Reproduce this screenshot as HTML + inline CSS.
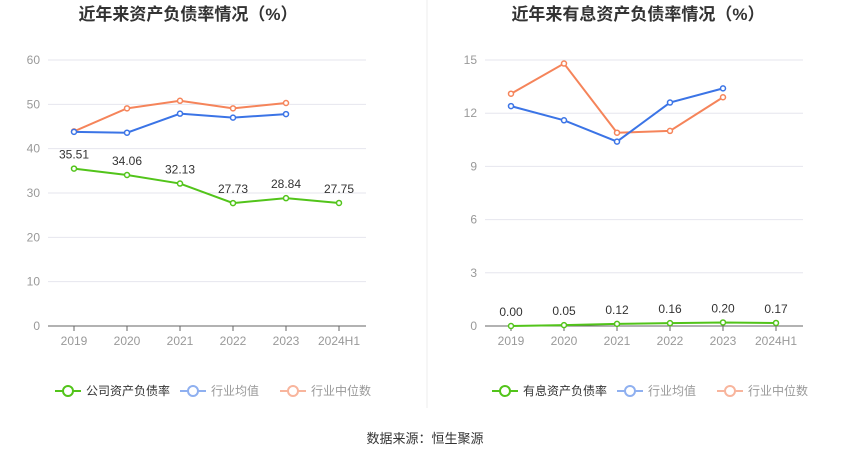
<!DOCTYPE html>
<html><head><meta charset="utf-8"><style>
body{margin:0;width:850px;height:459px;background:#fff;overflow:hidden;font-family:"Liberation Sans","Noto Sans CJK SC",sans-serif}
svg text{font-family:"Liberation Sans","Noto Sans CJK SC",sans-serif}
</style></head><body>
<svg id="c" width="850" height="459">
<line x1="427" y1="0" x2="427" y2="408" stroke="#eee"/>
<text x="425" y="443" font-size="13" fill="#333" text-anchor="middle">数据来源：恒生聚源</text>
</svg>
<script>
const categories=["2019","2020","2021","2022","2023","2024H1"];
const leftCompany=[35.51,34.06,32.13,27.73,28.84,27.75];
const leftAvg=[43.8,43.6,47.9,47.0,47.8];
const leftMedian=[43.9,49.1,50.8,49.1,50.3];
const leftTicks=[0,10,20,30,40,50,60];
const rightCompany=[0.00,0.05,0.12,0.16,0.20,0.17];
const rightAvg=[12.4,11.6,10.4,12.6,13.4];
const rightMedian=[13.1,14.8,10.9,11.0,12.9];
const rightTicks=[0,3,6,9,12,15];
const svg=document.getElementById('c');const NS="http://www.w3.org/2000/svg";
function mk(t,a,p){const e=document.createElementNS(NS,t);for(const k in a)e.setAttribute(k,a[k]);(p||svg).appendChild(e);return e;}
const GREEN="#52c41a",BLUE="#3b74e6",ORANGE="#f5845a";
function chart(o){
 const x0=o.x0,step=53,yTop=60,yBot=326,max=o.ticks[o.ticks.length-1];
 const X=i=>x0+26+i*step,Y=v=>yBot-(v/max)*(yBot-yTop);
 let t=mk('text',{x:o.cx,y:20,'font-size':17,'font-weight':'bold',fill:'#333','text-anchor':'middle'});t.textContent=o.title;
 
 
 o.ticks.forEach(v=>{
  let l=mk('line',{x1:x0,x2:x0+318,y1:Y(v),y2:Y(v),stroke:v==0?'#666':'#e6e6ee'});
  
  
  let tx=mk('text',{x:x0-8,y:Y(v)+4,'font-size':12,fill:'#999','text-anchor':'end'});tx.textContent=v;
  
  
 });
 categories.forEach((c,i)=>{
  let tk=mk('line',{x1:X(i),x2:X(i),y1:yBot,y2:yBot+5,stroke:'#666'});
  
  
  let tx=mk('text',{x:X(i),y:yBot+19,'font-size':12,fill:'#999','text-anchor':'middle'});tx.textContent=c;
  
  
 });
 [[o.median,ORANGE,'median'],[o.avg,BLUE,'avg'],[o.company,GREEN,'company']].forEach(([d,col,n])=>{
  let p=mk('polyline',{points:d.map((v,i)=>X(i)+','+Y(v)).join(' '),fill:'none',stroke:col,'stroke-width':2});
  
  
  d.forEach((v,i)=>{
   let c=mk('circle',{cx:X(i),cy:Y(v),r:2.5,fill:'#fff',stroke:col,'stroke-width':1.5});
   
   
   if(n=='company'){let l=mk('text',{x:X(i),y:Y(v)-10,'font-size':12,fill:'#333','text-anchor':'middle'});l.textContent=v.toFixed(2);
    
    }
  });
 });
 [[o.lx,GREEN,o.legend,'#333'],[o.lx+125,'#8fb0f0','行业均值','#999'],[o.lx+225,'#f8b59d','行业中位数','#999']].forEach(([lx,col,txt,tc])=>{
  let g=mk('g',{});
  
  
  mk('line',{x1:lx,x2:lx+26,y1:391,y2:391,stroke:col,'stroke-width':2},g);
  mk('circle',{cx:lx+13,cy:391,r:5,fill:'#fff',stroke:col,'stroke-width':2},g);
  let tt=mk('text',{x:lx+31,y:395,'font-size':12,fill:tc},g);tt.textContent=txt;
 });
}
chart({id:'left',x0:48,cx:188,title:'近年来资产负债率情况（%）',ticks:leftTicks,company:leftCompany,avg:leftAvg,median:leftMedian,lx:55,legend:'公司资产负债率'});
chart({id:'right',x0:485,cx:638,title:'近年来有息资产负债率情况（%）',ticks:rightTicks,company:rightCompany,avg:rightAvg,median:rightMedian,lx:492,legend:'有息资产负债率'});
</script>
</body></html>
